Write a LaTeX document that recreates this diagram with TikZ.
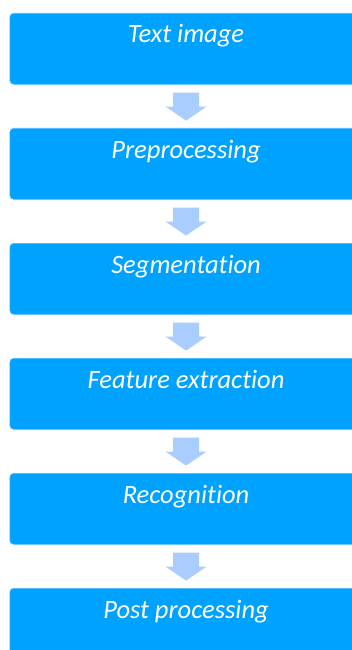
\documentclass[tikz,border=0pt]{standalone}
\usepackage{fontspec}
\setmainfont[Ligatures={NoCommon}]{Carlito}
\usetikzlibrary{calc}
\definecolor{boxblue}{HTML}{00A2FF}
\definecolor{boxedge}{HTML}{4DBBFF}
\definecolor{arrblue}{HTML}{A9CDFF}
\tikzset{
  stage/.style={draw=boxedge, line width=0.6pt, fill=boxblue, rounded corners=4pt,
    minimum width=352.5pt, minimum height=71pt, anchor=north west, inner sep=0pt},
  stagetext/.style={text=white, anchor=base, font=\fontsize{26.5}{30}\selectfont\itshape},
  blockarrow/.style={fill=arrblue}
}
\newcommand{\blockarr}[1]{%
  \fill[blockarrow] ($(#1.south)+(-13pt,-8pt)$) -- ($(#1.south)+(13pt,-8pt)$)
    -- ($(#1.south)+(13pt,-22pt)$) -- ($(#1.south)+(20.5pt,-22pt)$)
    -- ($(#1.south)+(0pt,-36pt)$) -- ($(#1.south)+(-20.5pt,-22pt)$)
    -- ($(#1.south)+(-13pt,-22pt)$) -- cycle;}
\begin{document}
\begin{tikzpicture}[x=1pt,y=1pt]
\useasboundingbox (0,0) rectangle (352,-650);
\clip (0,0) rectangle (352,-650);
\foreach \i/\t in {0/Text image,1/Preprocessing,2/Segmentation,3/Feature extraction,4/Recognition,5/Post processing}{
  \node[stage] (b\i) at (9.5,{-13-115*\i}) {};
  \node[stagetext] (t\i) at ($(b\i.north)+(0,-30)$) {\t};
}
\foreach \i in {0,...,4}{\blockarr{b\i}}
\end{tikzpicture}
\end{document}
